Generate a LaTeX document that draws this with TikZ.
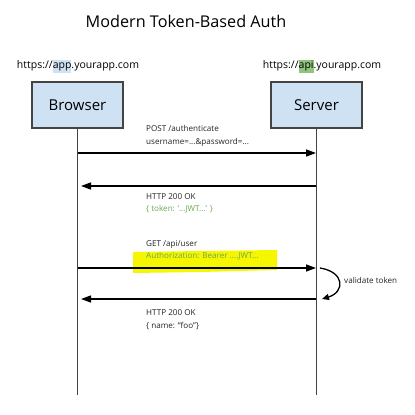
\documentclass[tikz,border=0pt]{standalone}
\usepackage{fontspec}
\setmainfont{Open Sans}
\usetikzlibrary{arrows.meta}
\definecolor{boxblue}{HTML}{CFE2F3}
\definecolor{hlgreen}{HTML}{93C47D}
\definecolor{txtgreen}{HTML}{6AA84F}
\definecolor{hlyellow}{HTML}{F6F600}
\definecolor{lifegray}{HTML}{444444}
\definecolor{txtdark}{HTML}{222222}
\newcommand{\hlbox}[2]{{\setlength{\fboxsep}{0pt}\colorbox{#1}{\strut #2}}}
\tikzset{
  actor/.style={draw=lifegray, line width=1.5pt, fill=boxblue, minimum width=91pt, minimum height=46pt, font=\fontsize{15}{18}\selectfont, inner sep=0pt},
  lifeline/.style={draw=lifegray, line width=1.6pt},
  msg/.style={draw=black, line width=1.3pt, -{Triangle[length=10pt,width=7pt]}},
  lbl/.style={anchor=west, inner sep=0pt, text=txtdark, font=\fontsize{8.1}{10}\selectfont},
  url/.style={inner sep=0pt, font=\fontsize{10.5}{13}\selectfont}
}
\begin{document}
\begin{tikzpicture}[x=1pt,y=-1pt]
\useasboundingbox (0,0) rectangle (415,415);
\node[font=\fontsize{16.2}{20}\selectfont, inner sep=0pt] (title) at (186,21) {Modern Token-Based Auth};
\node[url] (appurl) at (78,66) {https://\hlbox{boxblue}{app}.yourapp.com};
\node[url] (apiurl) at (322,66) {https://\hlbox{hlgreen}{api}.yourapp.com};
\node[actor] (browser) at (77.5,105) {Browser};
\node[actor] (server) at (316.5,105) {Server};
\coordinate (bend) at (77.5,395);
\coordinate (send) at (316.5,395);
% yellow highlight
\fill[hlyellow] (133,252) -- (200,251) -- (277,250) -- (277,270) -- (200,272) -- (133,273) -- cycle;
\draw[lifeline] (browser.south) -- (bend);
\draw[lifeline] (server.south) -- (send);
% messages
\coordinate (b1) at (78,153); \coordinate (s1) at (316,153);
\coordinate (b2) at (81,186); \coordinate (s2) at (316,186);
\coordinate (b3) at (78,268); \coordinate (s3) at (316,268);
\coordinate (b4) at (81,299); \coordinate (s4) at (316,299);
\draw[msg] (b1) -- (s1);
\draw[msg] (s2) -- (b2);
\draw[msg] (b3) -- (s3);
\draw[msg] (s4) -- (b4);
\node[lbl] (l1a) at (146,128) {POST /authenticate};
\node[lbl] (l1b) at (146,142) {username=...\&password=...};
\node[lbl] (l2a) at (146,197) {HTTP 200 OK};
\node[lbl, text=txtgreen] (l2b) at (146,209) {\{ token: ‘...JWT...’ \}};
\node[lbl] (l3a) at (146,244) {GET /api/user};
\node[lbl, text=txtgreen] (l3b) at (146,256) {Authorization: Bearer ....JWT...};
\node[lbl] (l4a) at (146,313) {HTTP 200 OK};
\node[lbl] (l4b) at (146,326) {\{ name: “foo”\}};
% validate token
\coordinate (v1) at (320,268); \coordinate (v2) at (322,299);
\draw[line width=1.3pt, -{Triangle[length=7pt,width=6pt]}] (v1) .. controls (345,272) and (345,292) .. (v2);
\node[lbl] (vt) at (344,280) {validate token};
\end{tikzpicture}
\end{document}
